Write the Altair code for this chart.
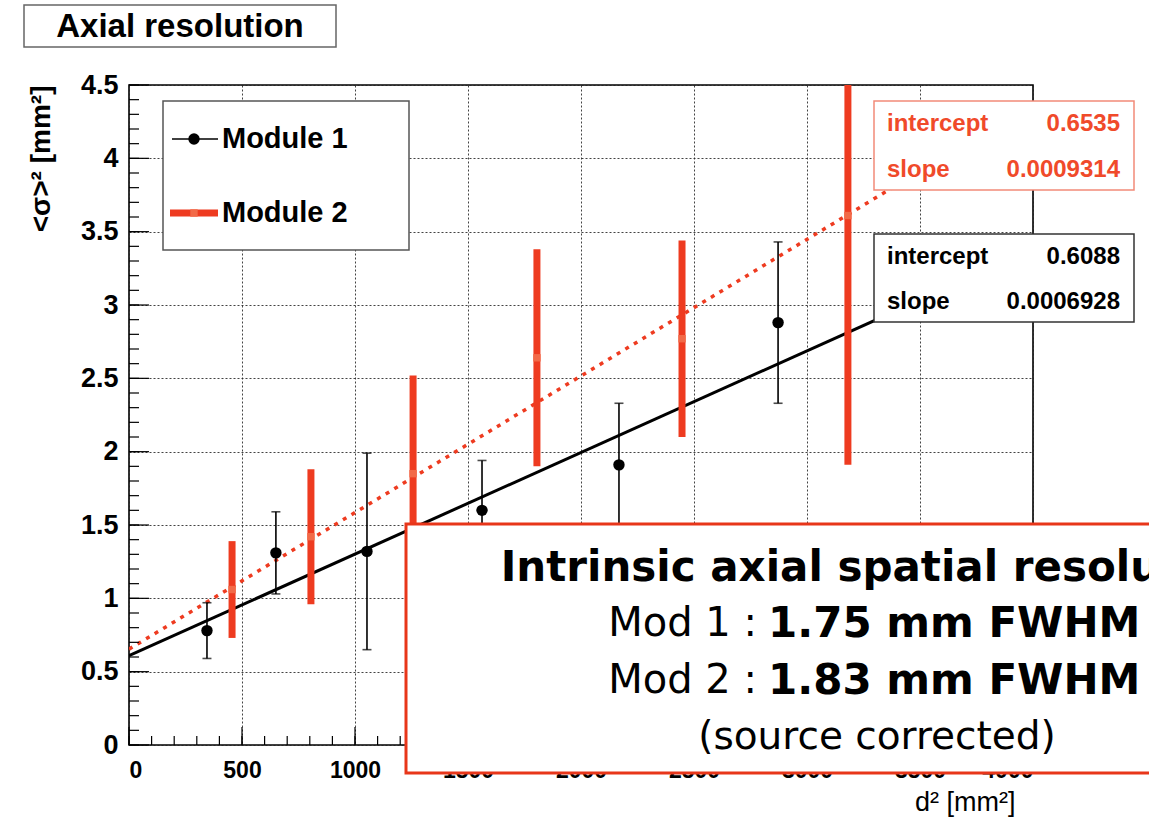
import altair as alt
import pandas as pd

# Module 1 measurements: d^2 [mm^2], <sigma>^2 [mm^2] and its error
M1_D2 = [345, 650, 1053, 1562, 2168, 2872]
M1_SIG2 = [0.78, 1.31, 1.32, 1.60, 1.91, 2.88]
M1_ERR = [0.19, 0.28, 0.67, 0.34, 0.42, 0.55]

# Module 2 measurements
M2_D2 = [456, 805, 1257, 1805, 2447, 3181]
M2_SIG2 = [1.06, 1.42, 1.85, 2.64, 2.77, 3.61]
M2_ERR = [0.33, 0.46, 0.67, 0.74, 0.67, 1.70]

# Linear fit results
FIT1_INTERCEPT, FIT1_SLOPE = 0.6088, 0.0006928
FIT2_INTERCEPT, FIT2_SLOPE = 0.6535, 0.0009314

X_DOMAIN = [0, 4000]
Y_DOMAIN = [0, 4.5]
X_TICKS = [0, 500, 1000, 1500, 2000, 2500, 3000, 3500, 4000]
Y_TICKS = [0, 0.5, 1, 1.5, 2, 2.5, 3, 3.5, 4, 4.5]

W, H = 904, 660
RED = "#ee3b20"
RED_TEXT = "#f04a2a"
FONT = "Liberation Sans"
NARROW = "Liberation Sans Narrow, Liberation Sans"

X_AXIS = alt.Axis(values=X_TICKS, format="d", title="d² [mm²]",
                  labelFont=NARROW, labelFontSize=23, labelFontWeight="bold",
                  labelPadding=14, ticks=False, domain=False,
                  grid=True, gridDash=[2, 2], gridColor="#222", gridWidth=1, gridOpacity=0.85,
                  titleFont=NARROW, titleFontSize=27, titleFontWeight="normal",
                  titleX=886, titleY=57, titleAlign="right", titleBaseline="middle")
Y_AXIS = alt.Axis(values=Y_TICKS, format="~g", title="<σ>² [mm²]",
                  labelFont=FONT, labelFontSize=27, labelFontWeight="bold",
                  labelPadding=11, ticks=False, domain=False,
                  grid=True, gridDash=[2, 2], gridColor="#222", gridWidth=1, gridOpacity=0.85,
                  titleFont=FONT, titleFontSize=28, titleFontWeight="bold",
                  titleAngle=-90, titleX=-88, titleY=0, titleAlign="right",
                  titleBaseline="middle")


def xq(field):
    return alt.X(field, type="quantitative",
                 scale=alt.Scale(domain=X_DOMAIN, nice=False, zero=False), axis=X_AXIS)


def yq(field):
    return alt.Y(field, type="quantitative",
                 scale=alt.Scale(domain=Y_DOMAIN, nice=False, zero=False), axis=Y_AXIS)


m1 = pd.DataFrame({"d2": M1_D2, "s2": M1_SIG2, "err": M1_ERR})
m1["lo"] = m1["s2"] - m1["err"]
m1["hi"] = m1["s2"] + m1["err"]
m2 = pd.DataFrame({"d2": M2_D2, "s2": M2_SIG2, "err": M2_ERR})
m2["lo"] = m2["s2"] - m2["err"]
m2["hi"] = m2["s2"] + m2["err"]

fit1 = pd.DataFrame({"d2": X_DOMAIN})
fit1["s2"] = FIT1_INTERCEPT + FIT1_SLOPE * fit1["d2"]
fit2 = pd.DataFrame({"d2": X_DOMAIN})
fit2["s2"] = FIT2_INTERCEPT + FIT2_SLOPE * fit2["d2"]

# fit lines
line1 = alt.Chart(fit1).mark_line(color="black", strokeWidth=3, clip=True).encode(
    x=xq("d2"), y=yq("s2"))
line2 = alt.Chart(fit2).mark_line(color=RED, strokeWidth=3.5, strokeDash=[4, 6], clip=True).encode(
    x=xq("d2"), y=yq("s2"))

# module 2: thick bars with small squares
bars2 = alt.Chart(m2).mark_rule(color=RED, strokeWidth=7, clip=True).encode(
    x=xq("d2"), y=yq("lo"), y2="hi")
pts2 = alt.Chart(m2).mark_square(color="#f26a48", size=55, opacity=1).encode(
    x=xq("d2"), y=yq("s2"))

# module 1: thin bars with caps and circles
bars1 = alt.Chart(m1).mark_rule(color="black", strokeWidth=1.6).encode(
    x=xq("d2"), y=yq("lo"), y2="hi")
caps1 = alt.Chart(m1).transform_fold(["lo", "hi"], as_=["end", "val"]).mark_tick(
    orient="horizontal", color="black", size=9, thickness=1.6).encode(
    x=xq("d2"), y=yq("val"))
pts1 = alt.Chart(m1).mark_circle(color="black", size=130, opacity=1).encode(
    x=xq("d2"), y=yq("s2"))

# inward ticks on the frame
xt_minor = pd.DataFrame({"d2": list(range(0, 4001, 100))})
xt_major = pd.DataFrame({"d2": X_TICKS})
yt_minor = pd.DataFrame({"s2": [round(v * 0.1, 1) for v in range(0, 46)]})
yt_major = pd.DataFrame({"s2": Y_TICKS})
xminor = alt.Chart(xt_minor).mark_rule(color="black", strokeWidth=1.2).encode(
    x=xq("d2"), y=alt.value(H), y2=alt.value(H - 9))
xmajor = alt.Chart(xt_major).mark_rule(color="black", strokeWidth=1.2).encode(
    x=xq("d2"), y=alt.value(H), y2=alt.value(H - 18))
yminor = alt.Chart(yt_minor).mark_rule(color="black", strokeWidth=1.2).encode(
    y=yq("s2"), x=alt.value(0), x2=alt.value(10))
ymajor = alt.Chart(yt_major).mark_rule(color="black", strokeWidth=1.2).encode(
    y=yq("s2"), x=alt.value(0), x2=alt.value(20))

one = pd.DataFrame({"k": [0]})


def box(x1, y1, x2, y2, stroke, width=1.5):
    return alt.Chart(one).mark_rect(fill="white", stroke=stroke, strokeWidth=width).encode(
        x=alt.value(x1), x2=alt.value(x2), y=alt.value(y1), y2=alt.value(y2))


def label(txt, x, y, size, color="black", align="left", weight="bold", font=FONT,
          baseline="middle"):
    return alt.Chart(one).mark_text(text=txt, align=align, baseline=baseline, fontSize=size,
                                    fontWeight=weight, font=font, color=color).encode(
        x=alt.value(x), y=alt.value(y))


# legend
legend = [
    box(34, 16, 280, 165, "#555"),
    alt.Chart(one).mark_rule(color="black", strokeWidth=1.5).encode(
        x=alt.value(43), x2=alt.value(89), y=alt.value(54)),
    alt.Chart(one).mark_circle(color="black", size=130, opacity=1).encode(
        x=alt.value(65), y=alt.value(54)),
    label("Module 1", 93, 54, 29),
    alt.Chart(one).mark_rule(color=RED, strokeWidth=7).encode(
        x=alt.value(41), x2=alt.value(89), y=alt.value(128)),
    alt.Chart(one).mark_square(color="#f26a48", size=55, opacity=1).encode(
        x=alt.value(65), y=alt.value(128)),
    label("Module 2", 93, 128, 29),
]

# fit parameter boxes
fitboxes = [
    box(745, 16, 1005, 105, "#f28a78"),
    label("intercept", 758, 39, 24, RED_TEXT),
    label(f"{FIT2_INTERCEPT:.4f}", 991, 39, 24, RED_TEXT, align="right"),
    label("slope", 758, 85, 24, RED_TEXT),
    label(f"{FIT2_SLOPE:.7f}", 991, 85, 24, RED_TEXT, align="right"),
    box(745, 149, 1005, 237, "#333"),
    label("intercept", 758, 172, 24),
    label(f"{FIT1_INTERCEPT:.4f}", 991, 172, 24, align="right"),
    label("slope", 758, 217, 24),
    label(f"{FIT1_SLOPE:.7f}", 991, 217, 24, align="right"),
]

# title box above the frame
titlebox = [
    box(-105, -80, 207, -38, "#666"),
    label("Axial resolution", 51, -58, 33, align="center"),
]

# summary annotation
ANN = "DejaVu Sans"
note = [
    box(277, 439, 1060, 688, "#e8361a", width=3),
    label("Intrinsic axial spatial resolution", 748, 483, 42, align="center", font=ANN),
    label("Mod 1 :", 628, 539, 40, align="right", weight="normal", font=ANN),
    label("1.75 mm FWHM", 639, 539, 42, align="left", font=ANN),
    label("Mod 2 :", 628, 596, 40, align="right", weight="normal", font=ANN),
    label("1.83 mm FWHM", 639, 596, 42, align="left", font=ANN),
    label("(source corrected)", 748, 652, 39, align="center", weight="normal", font=ANN),
]

chart = alt.layer(
    line1, line2, bars2, pts2, bars1, caps1, pts1,
    xminor, xmajor, yminor, ymajor,
    *legend, *fitboxes, *titlebox, *note,
).properties(
    width=W, height=H,
    autosize=alt.AutoSizeParams(type="none"),
    padding={"left": 129, "top": 85, "right": 116, "bottom": 72},
    background="white",
).configure_view(stroke="black", strokeWidth=1.6)

chart.save("out.html", embed_options={"renderer": "svg", "actions": False})
